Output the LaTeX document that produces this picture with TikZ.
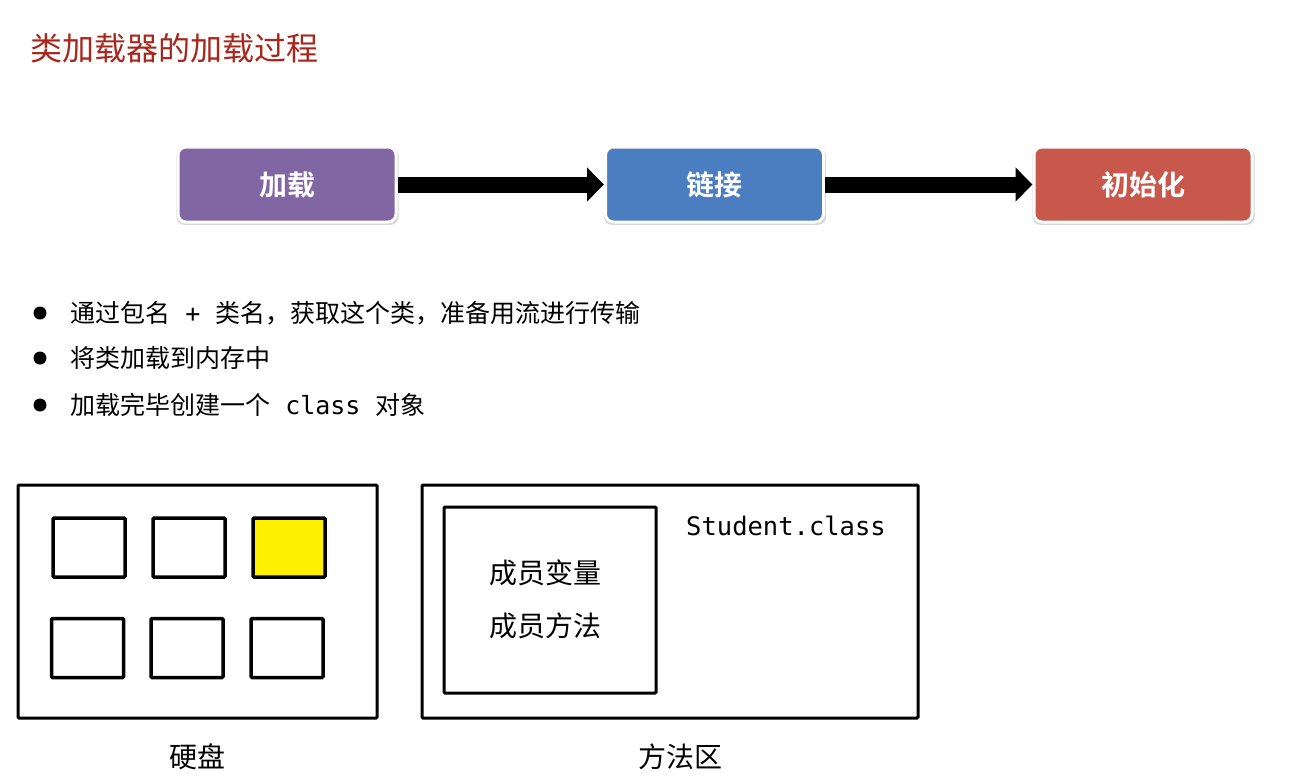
\documentclass[tikz,border=0pt]{standalone}
\usepackage{fontspec}
\usepackage{xcolor}
\usetikzlibrary{arrows.meta,positioning,shadows}
\setmainfont{Noto Sans CJK SC}
\setmonofont{DejaVu Sans Mono}
\newfontfamily\cjk{Noto Sans CJK SC}
\newfontfamily\cjkbold{Noto Sans CJK SC Bold}
\definecolor{titlered}{RGB}{168,38,28}
\definecolor{loadpurple}{RGB}{128,102,162}
\definecolor{linkblue}{RGB}{74,126,193}
\definecolor{initred}{RGB}{200,88,75}
\definecolor{slotyellow}{RGB}{255,240,0}
\begin{document}
\begin{tikzpicture}[x=1pt,y=-1pt,>=Stealth,every node/.style={font=\cjk\fontsize{25}{30}\selectfont,inner sep=0pt}]
  \tikzset{
    stage/.style={draw=white,line width=3pt,rounded corners=8pt,minimum width=218pt,minimum height=75pt,
      text=white,font=\cjkbold\fontsize{28}{32}\selectfont,
      drop shadow={shadow xshift=0.5pt,shadow yshift=-2pt,shadow scale=1.02,fill=black!35,opacity=.45}},
    flow/.style={line width=16pt,-{Triangle[length=17pt,width=33pt]}},
    frame/.style={draw=black,line width=3pt,rounded corners=1pt},
    slot/.style={draw=black,line width=3.5pt,rounded corners=1pt,minimum width=72pt,minimum height=59pt},
    dot/.style={circle,fill=black,minimum size=13pt},
    caption/.style={font=\cjk\fontsize{28}{32}\selectfont}
  }
  \fill[white] (0,0) rectangle (1304,777);
  \useasboundingbox (0,0) rectangle (1304,777);
  % title
  \node[anchor=west,text=titlered,font=\cjk\fontsize{32}{36}\selectfont] (title) at (30,48) {类加载器的加载过程};
  % stages
  \node[stage,fill=loadpurple] (load) at (287,184.5) {加载};
  \node[stage,fill=linkblue] (link) at (714.5,184.5) {链接};
  \node[stage,fill=initred] (init) at (1143,184.5) {初始化};
  \draw[flow] (load.east) -- (link.west);
  \draw[flow] (link.east) -- (init.west);
  % bullet list
  \node[dot] (b1) at (40,313) {};
  \node[dot] (b2) at (40,358) {};
  \node[dot] (b3) at (40,405) {};
  \node[anchor=west] (t1) at (70,313) {通过包名\texttt{ + }类名，获取这个类，准备用流进行传输};
  \node[anchor=west] (t2) at (70,358) {将类加载到内存中};
  \node[anchor=west] (t3) at (70,405) {加载完毕创建一个\texttt{ class }对象};
  % hard disk
  \node[frame,minimum width=359pt,minimum height=233pt] (disk) at (197.5,601.5) {};
  \foreach \x/\n in {89/1,189/2} \node[slot] (s\n) at (\x,547.5) {};
  \node[slot,fill=slotyellow] (s3) at (289,547.5) {};
  \foreach \x/\n in {87.5/4,187/5,287/6} \node[slot] (s\n) at (\x,648) {};
  \node[caption] (disklbl) at (197,757) {硬盘};
  % method area
  \node[frame,minimum width=496pt,minimum height=233pt] (area) at (670,601.5) {};
  \node[frame,minimum width=212pt,minimum height=186pt] (cls) at (550,600) {};
  \node[anchor=west,font=\ttfamily\fontsize{25.5}{30}\selectfont] (clsname) at (686,526) {Student.class};
  \node[caption] (fields) at (545.5,573) {成员变量};
  \node[caption] (methods) at (545.5,626) {成员方法};
  \node[caption] (arealbl) at (680,757) {方法区};
\end{tikzpicture}
\end{document}
